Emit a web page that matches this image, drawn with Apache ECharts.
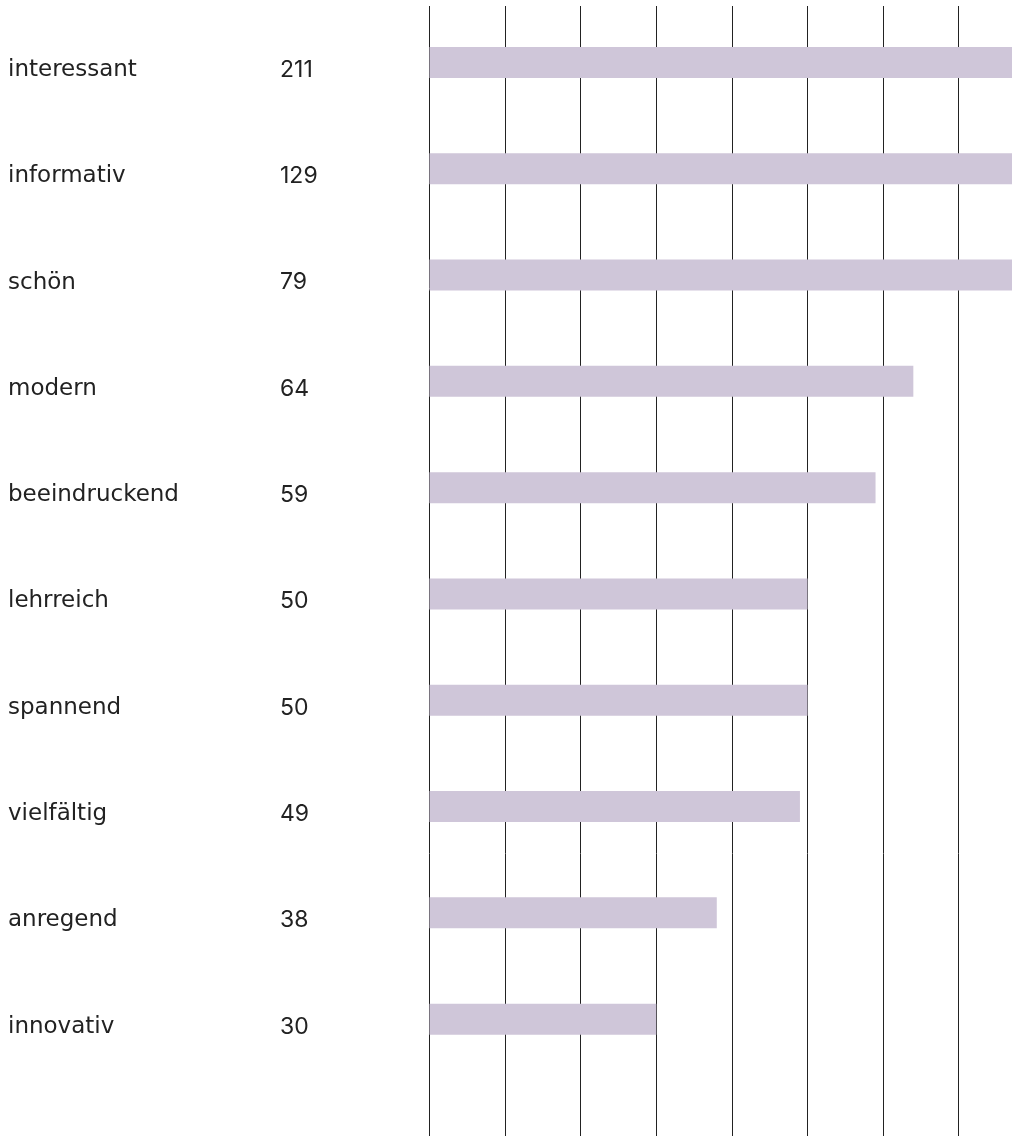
<!DOCTYPE html>
<html>
<head>
<meta charset="utf-8">
<script src="https://cdn.jsdelivr.net/npm/echarts@6/dist/echarts.min.js"></script>
<style>
html,body{margin:0;padding:0;background:#fff;}
#chart{width:1012px;height:1136px;}
</style>
</head>
<body>
<div id="chart"></div>
<script>
const categories = ['interessant','informativ','schön','modern','beeindruckend','lehrreich','spannend','vielfältig','anregend','innovativ'];
const values = [211,129,79,64,59,50,50,49,38,30];

const chart = echarts.init(document.getElementById('chart'), null, {renderer:'canvas'});
const NAME_FONT = '"DejaVu Sans"';
const NUM_FONT = 'Inter';
const left = 429.5;
const xMax = 77.05;

chart.setOption({
  backgroundColor: '#fff',
  animation: false,
  grid: [
    {left: left, top: 9.3, height: 1063, right: 0, containLabel: false},
    {left: left, top: 6, bottom: 0, right: 0, containLabel: false}
  ],
  xAxis: [
    {gridIndex: 0, type: 'value', min: 0, max: xMax, interval: 10,
     axisLine:{show:false}, axisTick:{show:false}, axisLabel:{show:false}, splitLine:{show:false}},
    {gridIndex: 1, type: 'value', min: 0, max: xMax, interval: 10,
     axisLine:{show:false}, axisTick:{show:false}, axisLabel:{show:false},
     splitLine:{show:true, lineStyle:{color:'#222', width:1}}}
  ],
  yAxis: [
    {gridIndex: 0, type: 'category', inverse: true, data: categories,
     axisLine:{show:false}, axisTick:{show:false}, splitLine:{show:false},
     axisLabel:{
       show:true, align:'left', margin: left - 8,
       formatter: function(v, i){ return '{n|' + v + '}{v|' + values[i] + '}'; },
       rich:{
         n:{width:272, fontFamily:NAME_FONT, fontSize:23, color:'#222', padding:[15,0,0,0]},
         v:{fontFamily:NUM_FONT, fontSize:23, color:'#222', padding:[15,0,0,0]}
       }
     }},
    {gridIndex: 1, type: 'category', data: [''], show: false}
  ],
  series: [
    {type:'bar', xAxisIndex:0, yAxisIndex:0, data: values, barWidth: 31, clip: true,
     itemStyle:{color:'#cfc6d9'}, z: 1, silent: true}
  ]
});
</script>
</body>
</html>
